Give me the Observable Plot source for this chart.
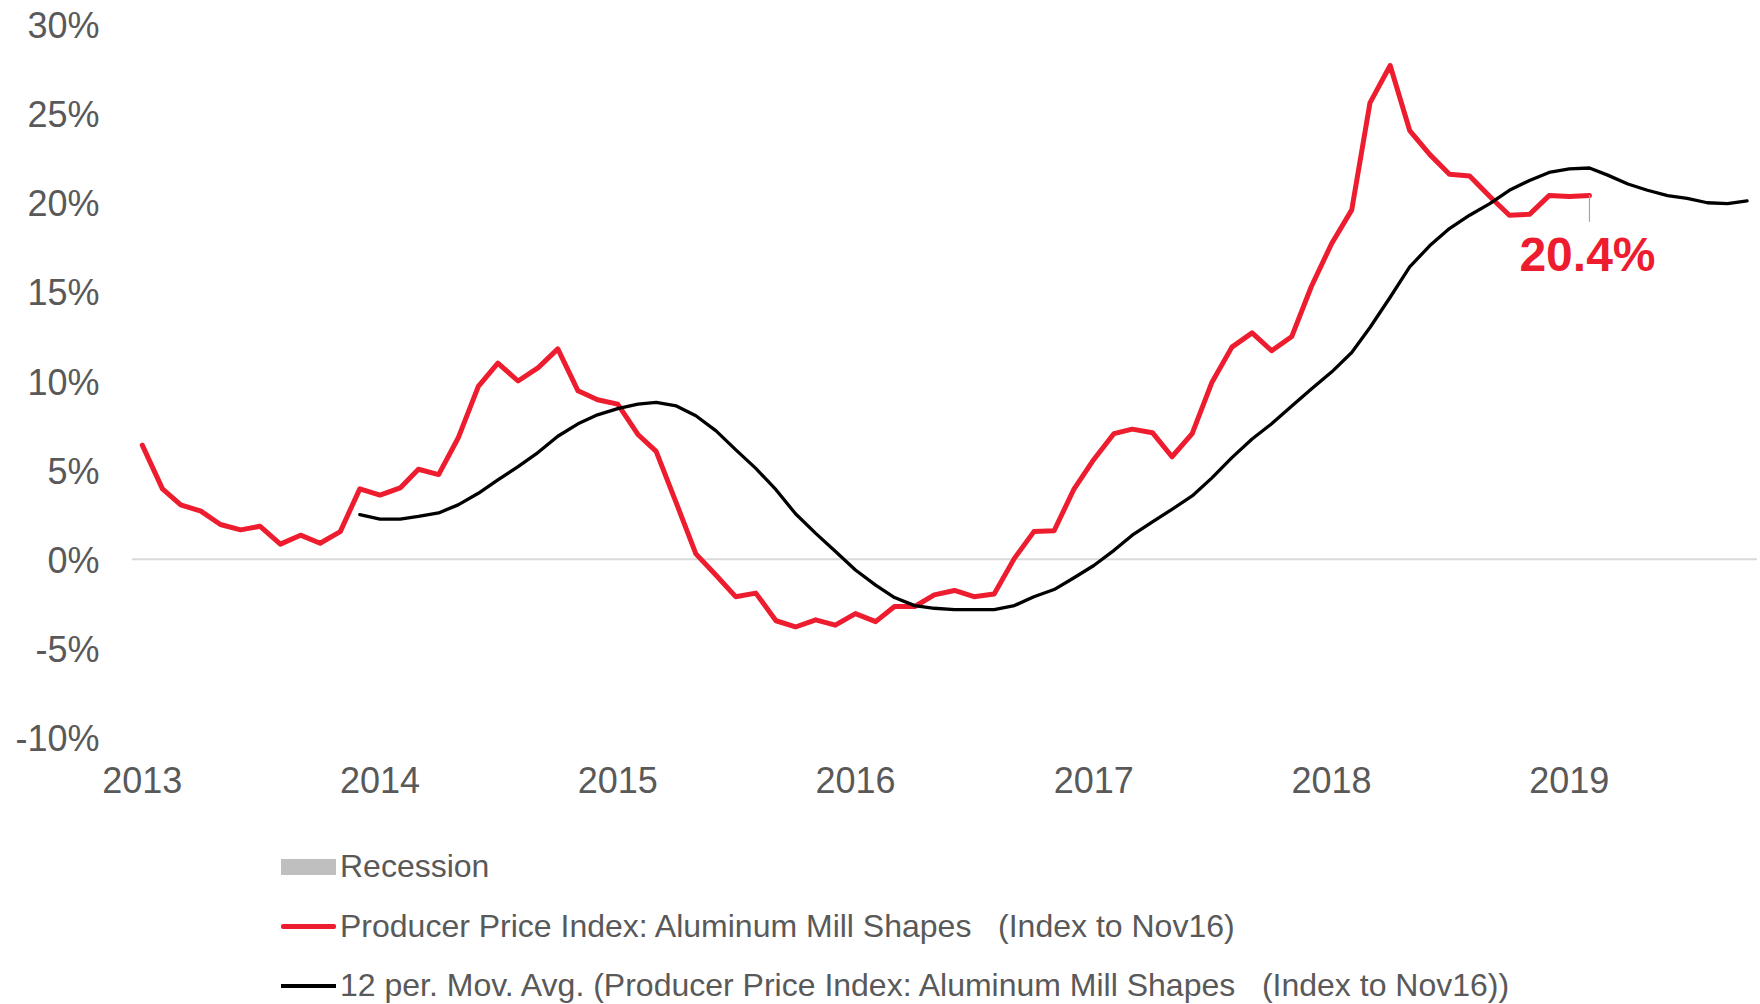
<!DOCTYPE html>
<html>
<head>
<meta charset="utf-8">
<script src="https://cdn.jsdelivr.net/npm/d3@7"></script>
<script src="https://cdn.jsdelivr.net/npm/@observablehq/plot@0.6"></script>
<style>
  html, body { margin: 0; padding: 0; background: #fff; overflow: hidden; }
  #chart { width: 1760px; }
  .legend { font-family: "Liberation Sans", Arial, sans-serif; font-size: 32px; color: #595959; padding-top: 27px; }
  .row { display: flex; align-items: center; height: 59.5px; padding-left: 281px; white-space: pre; }
  .sw { width: 55px; margin-right: 4px; flex: none; }
</style>
</head>
<body>
<div id="chart"></div>
<script>
// ---- data ----
const ppiStart = "2013-01-01";
const ppi = [
  6.4, 3.95, 3.05, 2.7, 1.95, 1.65, 1.85, 0.85, 1.35, 0.9, 1.55, 3.95,
  3.6, 4.0, 5.05, 4.75, 6.8, 9.7, 11.0, 10.0, 10.75, 11.8, 9.45, 8.95,
  8.7, 7.0, 6.05, 3.15, 0.3, -0.9, -2.1, -1.9, -3.45, -3.8, -3.4, -3.7,
  -3.05, -3.5, -2.65, -2.65, -2.0, -1.75, -2.1, -1.95, 0.05, 1.55, 1.6, 3.9,
  5.6, 7.05, 7.3, 7.1, 5.75, 7.05, 9.9, 11.9, 12.7, 11.7, 12.5, 15.3,
  17.7, 19.6, 25.6, 27.7, 24.05, 22.7, 21.6, 21.5, 20.35, 19.3, 19.35, 20.4,
  20.35, 20.4
];
const maStart = "2013-12-01";
const movAvg = [
  2.5,
  2.25, 2.25, 2.4, 2.6, 3.05, 3.7, 4.45, 5.2, 6.0, 6.9, 7.6, 8.1,
  8.45, 8.7, 8.8, 8.6, 8.05, 7.2, 6.15, 5.1, 3.9, 2.55, 1.45, 0.45,
  -0.6, -1.45, -2.15, -2.6, -2.75, -2.83, -2.83, -2.83, -2.6, -2.1, -1.7, -1.05,
  -0.35, 0.5, 1.35, 2.1, 2.8, 3.55, 4.55, 5.7, 6.75, 7.6, 8.6, 9.55,
  10.5, 11.6, 13.0, 14.7, 16.4, 17.6, 18.55, 19.3, 19.95, 20.7, 21.25, 21.7,
  21.9, 21.95, 21.55, 21.05, 20.7, 20.4, 20.25, 20.0, 19.95, 20.1
];
const yearTicks = [2013, 2014, 2015, 2016, 2017, 2018, 2019];
const yTicks = [-10, -5, 0, 5, 10, 15, 20, 25, 30];
const seriesNames = [
  "Recession",
  "Producer Price Index: Aluminum Mill Shapes   (Index to Nov16)",
  "12 per. Mov. Avg. (Producer Price Index: Aluminum Mill Shapes   (Index to Nov16))"
];
const colors = { recession: "#BFBFBF", ppi: "#ED1C2E", ma: "#000000", zero: "#D9D9D9", text: "#595959" };

// ---- build tables ----
const toRows = (start, vals) => {
  const s = new Date(start + "T00:00:00Z");
  return vals.map((v, i) => ({ date: d3.utcMonth.offset(s, i), value: v }));
};
const ppiRows = toRows(ppiStart, ppi);
const maRows = toRows(maStart, movAvg);
const last = ppiRows[ppiRows.length - 1];

const chart = Plot.plot({
  width: 1760,
  height: 810,
  marginLeft: 132,
  marginRight: 3,
  marginTop: 24,
  marginBottom: 73,
  style: { fontFamily: "'Liberation Sans', Arial, sans-serif", fontSize: "36px", color: colors.text, background: "#fff" },
  x: { type: "utc", domain: [new Date(Date.UTC(2012, 11, 17)), new Date(Date.UTC(2019, 9, 17))] },
  y: { domain: [-10, 30] },
  marks: [
    Plot.ruleY([0], { stroke: colors.zero, strokeWidth: 2 }),
    Plot.axisY({ ticks: yTicks, tickFormat: d => d + "%", tickSize: 0, tickPadding: 33, label: null, fontSize: 36, dy: 2 }),
    Plot.axisX({ ticks: yearTicks.map(y => new Date(Date.UTC(y, 0, 1))), tickFormat: d3.utcFormat("%Y"), tickSize: 0, tickPadding: 30, label: null, fontSize: 36 }),
    Plot.line(ppiRows, { x: "date", y: "value", stroke: colors.ppi, strokeWidth: 5, strokeLinejoin: "round" }),
    Plot.line(maRows, { x: "date", y: "value", stroke: colors.ma, strokeWidth: 3.3, strokeLinejoin: "round" }),
    Plot.ruleX([last], { x: "date", y1: "value", y2: d => d.value - 1.5, stroke: "#A6A6A6", strokeWidth: 1.2 }),
    Plot.text([last], { x: "date", y: "value", text: d => d.value.toFixed(1) + "%", dy: 60, dx: -2, fill: colors.ppi, fontSize: 48, fontWeight: "bold", textAnchor: "middle" })
  ]
});
document.getElementById("chart").appendChild(chart);

// ---- legend ----
const legend = document.createElement("div");
legend.className = "legend";
const swatches = [
  `<span class="sw" style="height:16px;background:${colors.recession}"></span>`,
  `<span class="sw" style="height:5px;background:${colors.ppi};border-radius:2px"></span>`,
  `<span class="sw" style="height:3.5px;background:${colors.ma}"></span>`
];
seriesNames.forEach((name, i) => {
  const row = document.createElement("div");
  row.className = "row";
  row.innerHTML = swatches[i] + `<span>${name}</span>`;
  legend.appendChild(row);
});
document.getElementById("chart").appendChild(legend);
</script>
</body>
</html>
